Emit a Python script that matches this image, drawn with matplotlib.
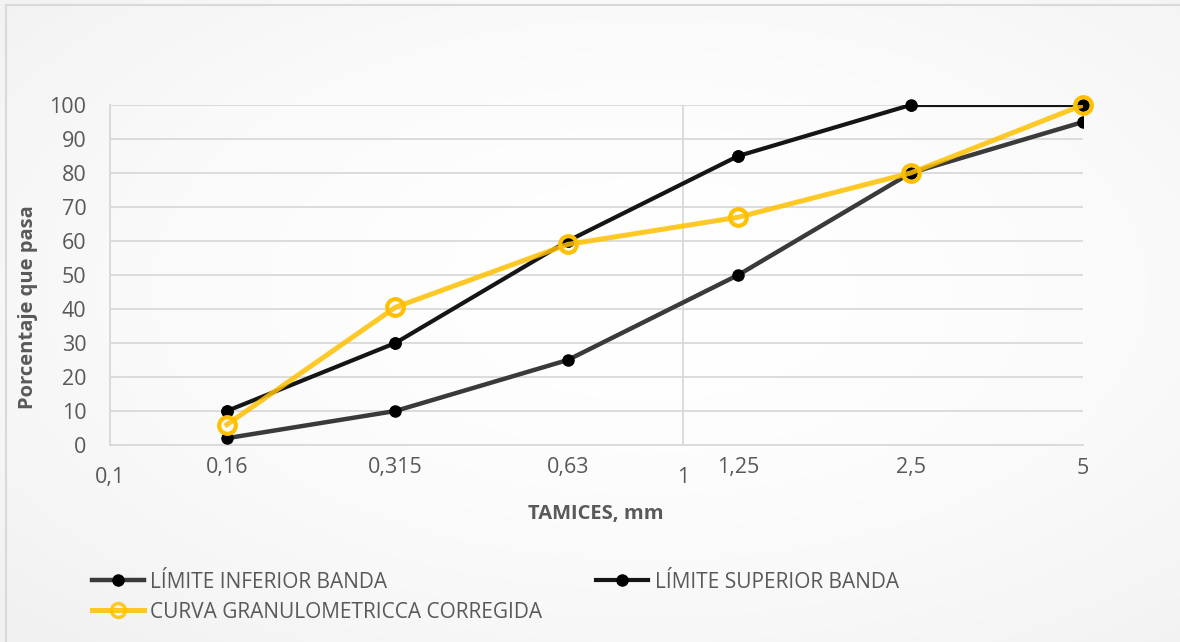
import numpy as np
import matplotlib.pyplot as plt
from matplotlib.patches import Rectangle
from matplotlib.lines import Line2D

plt.rcParams['font.family'] = ['Open Sans', 'DejaVu Sans']

# sieve sizes (mm) and percent passing
tamices = [0.16, 0.315, 0.63, 1.25, 2.5, 5]
lim_inferior = [2, 10, 25, 50, 80, 95]
lim_superior = [10, 30, 60, 85, 100, 100]
curva_corregida = [6, 40.5, 59, 67, 80, 100]

etiquetas_min = ['0,16', '0,315', '0,63', '1,25', '2,5', '5']
etiquetas_maj = ['0,1', '1']

W, H = 1180, 642
fig = plt.figure(figsize=(W / 100, H / 100), dpi=100)

# soft background shading
yy, xx = np.mgrid[0:H, 0:W]
d = np.hypot((xx - W * 0.55) / W, (yy - H * 0.45) / H)
shade = 1.0 - 0.055 * np.clip(d / 0.75, 0, 1) ** 1.8
fig.figimage(np.dstack([shade] * 3), xo=0, yo=0, zorder=-10)

fig.patches.append(Rectangle((6 / W, -0.1), 1.2, 1 - 5 / H + 0.1,
                             transform=fig.transFigure, fill=False,
                             edgecolor='#d9d9d9', linewidth=1.5))

ax = fig.add_axes([110 / W, 1 - 445 / H, (1083 - 110) / W, (445 - 105) / H])
ax.patch.set_alpha(0)

ax.plot(tamices, lim_inferior, color='#3a3a3a', lw=3.2, marker='o', ms=8,
        mfc='black', mec='black', label='LÍMITE INFERIOR BANDA', zorder=3)
ax.plot(tamices, lim_superior, color='#151515', lw=3.0, marker='o', ms=8,
        mfc='black', mec='black', label='LÍMITE SUPERIOR BANDA', zorder=4)
ax.plot(tamices, curva_corregida, color='#FFC000', alpha=0.85, lw=3.6,
        label='CURVA GRANULOMETRICCA CORREGIDA', zorder=5)
ax.plot(tamices, curva_corregida, ls='none', marker='o', ms=12,
        mfc='none', mec='#FFC000', mew=3, zorder=6, clip_on=False)

# markers of the band limits stay visible above the top edge
ax.plot(tamices, lim_superior, ls='none', marker='o', ms=8, color='black',
        zorder=4, clip_on=False)

ax.set_xscale('log')
ax.set_xlim(0.1, 5)
ax.set_ylim(0, 100)

ax.set_xticks([0.1, 1])
ax.set_xticklabels(etiquetas_maj)
ax.set_xticks(tamices, minor=True)
ax.set_xticklabels(etiquetas_min, minor=True)
ax.tick_params(axis='x', which='major', length=0, pad=16, labelsize=15.5,
               labelcolor='#595959')
ax.tick_params(axis='x', which='minor', length=0, pad=9, labelsize=15.5,
               labelcolor='#595959')
ax.set_yticks(range(0, 101, 10))
ax.tick_params(axis='y', length=0, pad=17, labelsize=15.5, labelcolor='#595959')

ax.grid(True, axis='y', color='#d9d9d9', lw=1.3)
ax.grid(True, axis='x', which='major', color='#d9d9d9', lw=1.3)
ax.grid(False, axis='x', which='minor')
ax.set_axisbelow(True)
for s in ['top', 'right']:
    ax.spines[s].set_visible(False)
for s in ['left', 'bottom']:
    ax.spines[s].set_color('#d9d9d9')
    ax.spines[s].set_linewidth(1.3)

ax.set_xlabel('TAMICES, mm', fontsize=14.5, fontweight='bold', color='#595959')
ax.set_ylabel('Porcentaje que pasa', fontsize=14.5, fontweight='bold',
              color='#595959')
ax.xaxis.set_label_coords((596 - 110) / 973, -(504 - 445) / 340)
ax.yaxis.set_label_coords(-(110 - 38) / 973, (445 - 307) / 340)

h, l = ax.get_legend_handles_labels()
h[2] = Line2D([], [], color='#FFC000', alpha=0.85, lw=3.6, marker='o', ms=10,
              mfc='none', mec='#FFC000', mew=2.5)
orden = [0, 2, 1]
leg = fig.legend([h[i] for i in orden], [l[i] for i in orden],
                 loc='upper left', bbox_to_anchor=(73 / W, 1 - 553 / H),
                 ncol=2, frameon=False, fontsize=15, handlelength=2.5,
                 columnspacing=2.6, labelspacing=0.42, handletextpad=0.3)
for t in leg.get_texts():
    t.set_color('#595959')

fig.savefig('out.png', dpi=100)
